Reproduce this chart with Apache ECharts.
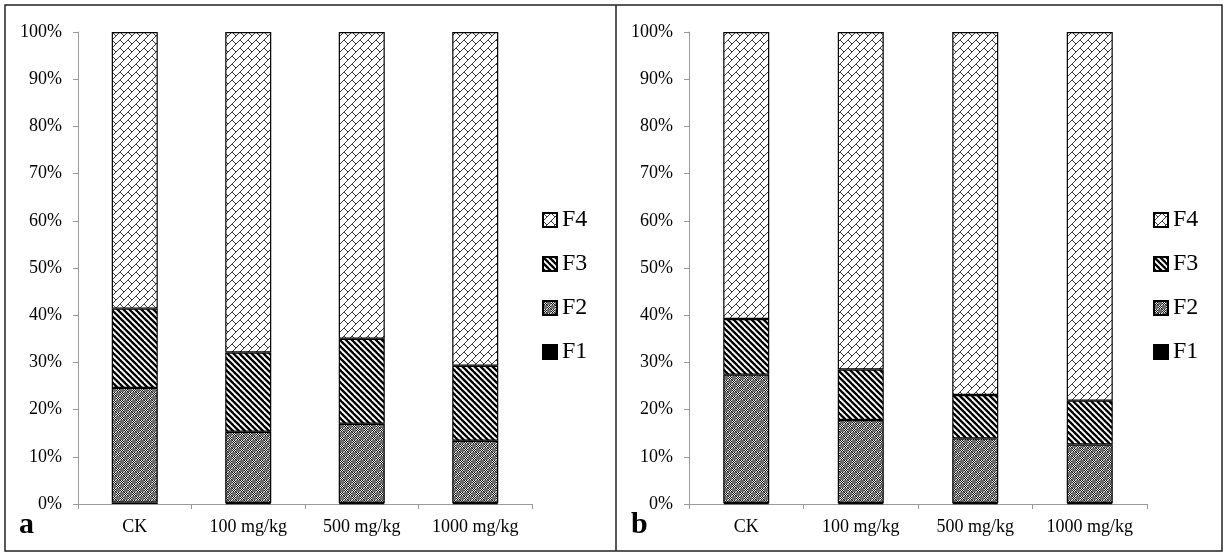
<!DOCTYPE html>
<html>
<head>
<meta charset="utf-8">
<script src="https://cdn.jsdelivr.net/npm/echarts@6/dist/echarts.min.js"></script>
<style>html,body{margin:0;padding:0;background:#fff;}#c{width:1225px;height:553px;}</style>
</head>
<body>
<div id="c"></div>
<script>
// ---- data ----
var categories = ['CK', '100 mg/kg', '500 mg/kg', '1000 mg/kg'];
var yTicks = ['0%','10%','20%','30%','40%','50%','60%','70%','80%','90%','100%'];
var seriesNames = ['F1', 'F2', 'F3', 'F4'];
// panel a
var F1a = [0.3, 0.2, 0.2, 0.2];
var F2a = [24.3, 15.1, 16.8, 13.2];
var F3a = [16.8, 16.8, 18.0, 15.9];
var F4a = [58.6, 67.9, 65.0, 70.7];
// panel b
var F1b = [0.2, 0.2, 0.2, 0.2];
var F2b = [27.2, 17.6, 13.7, 12.4];
var F3b = [11.8, 10.7, 9.2, 9.3];
var F4b = [60.8, 71.5, 76.9, 78.1];

// ---- patterns ----
function makeCanvas(w, h, draw) {
  var c = document.createElement('canvas');
  c.width = w; c.height = h;
  var ctx = c.getContext('2d');
  draw(ctx, w, h);
  return c;
}
var patF1 = '#000000';
var patF2 = makeCanvas(8, 8, function (ctx) {
  ctx.fillStyle = '#6f6f6f';
  ctx.fillRect(0, 0, 8, 8);
  [[0, 0], [4, 4]].forEach(function (o) {
    for (var i = 0; i < 4; i++) for (var j = 0; j < 4; j++) {
      ctx.fillStyle = ((i + j) % 2) ? '#eeeeee' : '#111111';
      ctx.fillRect(o[0] + i, o[1] + j, 1, 1);
    }
  });
});
var patF3 = makeCanvas(6, 6, function (ctx) {
  ctx.fillStyle = '#fff';
  ctx.fillRect(0, 0, 6, 6);
  ctx.strokeStyle = '#000';
  ctx.lineWidth = 2.3;
  for (var k = -6; k <= 6; k += 6) {
    ctx.beginPath();
    ctx.moveTo(k - 1, -1);
    ctx.lineTo(k + 7, 7);
    ctx.stroke();
  }
});
var patF4 = makeCanvas(8, 8, function (ctx) {
  ctx.fillStyle = '#fff';
  ctx.fillRect(0, 0, 8, 8);
  ctx.strokeStyle = '#3a3a3a';
  ctx.lineWidth = 1;
  for (var dx = -8; dx <= 8; dx += 8) for (var dy = -8; dy <= 8; dy += 8) {
    ctx.beginPath();
    ctx.moveTo(dx + 0, dy + 8);
    ctx.lineTo(dx + 8, dy + 0);
    ctx.stroke();
    ctx.beginPath();
    ctx.moveTo(dx + 0, dy + 0);
    ctx.lineTo(dx + 4, dy + 4);
    ctx.stroke();
  }
});
function pat(p) { return typeof p === 'string' ? p : { image: p, repeat: 'repeat' }; }
var patterns = [pat(patF1), pat(patF2), pat(patF3), pat(patF4)];

var FONT = 'Liberation Serif';
var panelData = [[F1a, F2a, F3a, F4a], [F1b, F2b, F3b, F4b]];

function xAxis(idx) {
  return {
    type: 'category', gridIndex: idx, data: categories,
    axisLine: { lineStyle: { color: '#9a9a9a', width: 1 } },
    axisTick: { show: true, length: 5, lineStyle: { color: '#9a9a9a' } },
    axisLabel: { color: '#000', fontFamily: FONT, fontSize: 18, margin: 14 }
  };
}
function yAxis(idx) {
  return {
    type: 'value', gridIndex: idx, min: 0, max: 100, interval: 10,
    axisLine: { show: true, lineStyle: { color: '#9a9a9a', width: 1 } },
    axisTick: { show: true, length: 5, lineStyle: { color: '#9a9a9a' } },
    splitLine: { show: false },
    axisLabel: {
      color: '#000', fontFamily: FONT, fontSize: 18, margin: 16,
      formatter: function (v) { return yTicks[Math.round(v / 10)]; }
    }
  };
}
var series = [];
panelData.forEach(function (arrs, p) {
  arrs.forEach(function (arr, k) {
    series.push({
      type: 'bar', name: seriesNames[k], stack: 'p' + p,
      xAxisIndex: p, yAxisIndex: p, data: arr, barWidth: 46,
      itemStyle: { color: patterns[k], borderColor: '#000', borderWidth: 1.2 },
      emphasis: { disabled: true }, animation: false
    });
  });
});
function legend(left) {
  return {
    orient: 'vertical', left: left, top: 208, padding: 0,
    data: ['F4', 'F3', 'F2', 'F1'],
    itemWidth: 14, itemHeight: 14, itemGap: 20, selectedMode: false,
    icon: 'rect',
    textStyle: { fontFamily: FONT, fontSize: 24, color: '#000', lineHeight: 24 }
  };
}
var chart = echarts.init(document.getElementById('c'), null, { renderer: 'canvas' });
chart.setOption({
  animation: false,
  backgroundColor: '#fff',
  grid: [
    { left: 78, top: 32, width: 454, height: 472 },
    { left: 689, top: 32, width: 458, height: 472 }
  ],
  xAxis: [xAxis(0), xAxis(1)],
  yAxis: [yAxis(0), yAxis(1)],
  legend: [legend(542), legend(1153)],
  series: series,
  graphic: [
    { type: 'rect', shape: { x: 5, y: 5, width: 1217, height: 546 }, style: { fill: 'none', stroke: '#222', lineWidth: 1.5 }, silent: true },
    { type: 'line', shape: { x1: 616, y1: 5, x2: 616, y2: 551 }, style: { stroke: '#222', lineWidth: 1.5 }, silent: true },
    { type: 'text', left: 19, top: 510, style: { text: 'a', font: 'bold 30px "Liberation Serif"', fill: '#000' }, silent: true },
    { type: 'text', left: 631, top: 510, style: { text: 'b', font: 'bold 30px "Liberation Serif"', fill: '#000' }, silent: true }
  ]
});
</script>
</body>
</html>
